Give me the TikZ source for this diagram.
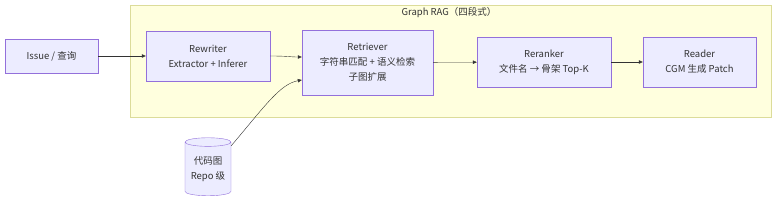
\documentclass[tikz,border=0pt]{standalone}
\usepackage{fontspec}
\setmainfont{Noto Sans CJK SC}
\usetikzlibrary{arrows.meta,shapes.geometric}

\definecolor{boxfill}{HTML}{ECECFF}
\definecolor{boxline}{HTML}{9370DB}
\definecolor{groupfill}{HTML}{FFFFDE}
\definecolor{groupline}{HTML}{DCDC9A}
\definecolor{edgecol}{HTML}{333333}

\begin{document}
\begin{tikzpicture}[x=1pt, y=1pt, >={Triangle[length=4pt,width=3.5pt]},
    stage/.style={draw=boxline, fill=boxfill, align=center, inner sep=0pt,
        font=\fontsize{9.5}{15}\selectfont, text=edgecol},
    flow/.style={->, draw=edgecol, line width=0.4pt}]
    \useasboundingbox (0, 0) rectangle (784, 206);

    % Group
    \draw[groupline, fill=groupfill] (130, 89) rectangle (771, 201);
    \node[font=\fontsize{9.5}{12}\selectfont, text=edgecol] (title) at (449, 193) {Graph RAG（四段式）};

    % Stages
    \node[stage, minimum width=93, minimum height=34] (issue) at (51.5, 150) {Issue / 查询};
    \node[stage, minimum width=124, minimum height=50] (rewriter) at (208, 150) {Rewriter\\Extractor + Inferer};
    \node[stage, minimum width=131, minimum height=65] (retriever) at (367.5, 143.5) {Retriever\\字符串匹配 + 语义检索\\子图扩展};
    \node[stage, minimum width=134, minimum height=50] (reranker) at (544, 144) {Reranker\\文件名 → 骨架 Top-K};
    \node[stage, minimum width=113, minimum height=50] (reader) at (699.5, 144) {Reader\\CGM 生成 Patch};

    % Repo graph
    \node[stage, cylinder, shape border rotate=90, aspect=0.25,
        minimum width=46, minimum height=58] (repo) at (208, 37) {代码图\\Repo 级};

    % Edges
    \draw[flow] (issue) -- (rewriter);
    \draw[flow] (rewriter.east) .. controls (288, 150) and (290, 149) .. (retriever.west |- 0, 149);
    \draw[flow] (retriever) -- (reranker);
    \draw[flow] (reranker) -- (reader);
    \draw[flow] (repo.north east) .. controls (265, 100) and (280, 122) .. (retriever.west |- 0, 126);
\end{tikzpicture}
\end{document}
